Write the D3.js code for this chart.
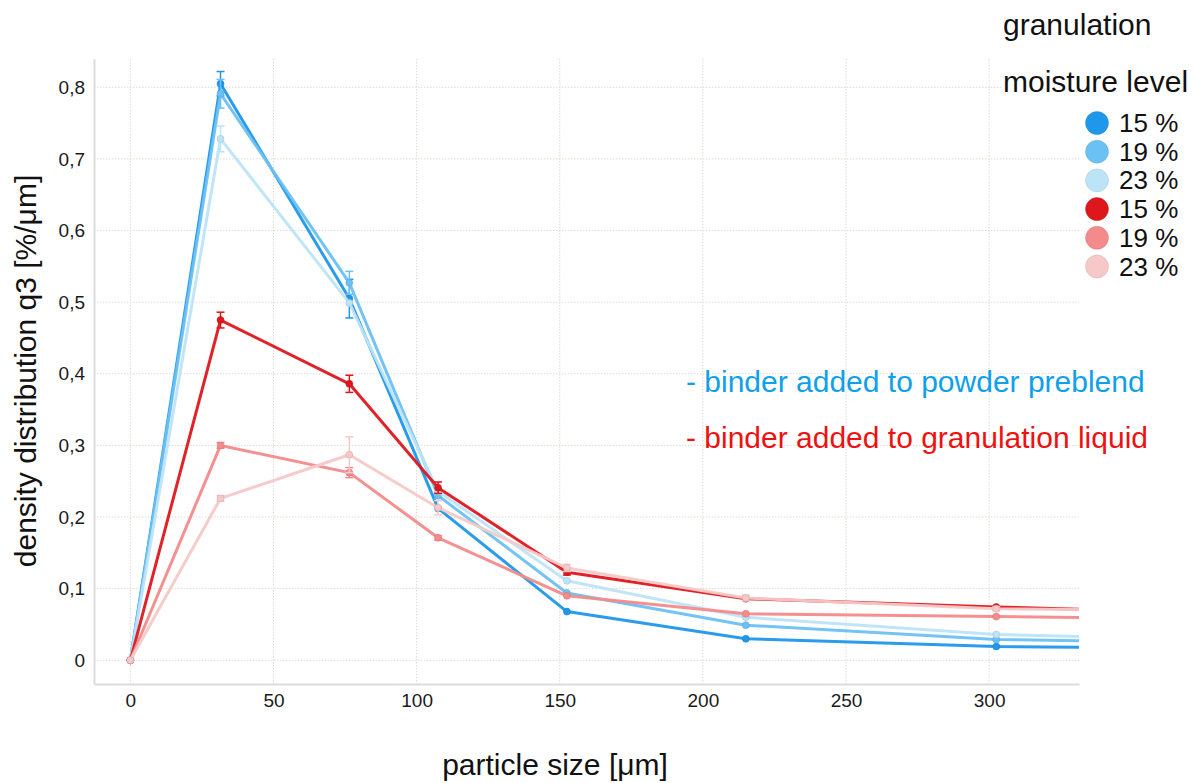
<!DOCTYPE html>
<html>
<head>
<meta charset="utf-8">
<script src="https://cdn.jsdelivr.net/npm/d3@7/dist/d3.min.js"></script>
<style>
  html, body { margin: 0; padding: 0; background: #fff; }
  svg { display: block; font-family: "Liberation Sans", Arial, sans-serif; }
</style>
</head>
<body>
<svg id="chart" width="1194" height="783"></svg>
<script>
// Particle size classes (mid-points of sieve fractions, µm)
const particleSize = [0, 31.5, 76.5, 107.5, 152.5, 215, 302.5, 427.5];

// q3 density distribution [%/µm] per formulation and moisture level
const preblend15 = [0, 0.805, 0.505, 0.212, 0.068, 0.030, 0.0193, 0.0153];
const preblend19 = [0, 0.791, 0.527, 0.230, 0.094, 0.049, 0.029, 0.021];
const preblend23 = [0, 0.728, 0.499, 0.236, 0.111, 0.060, 0.036, 0.024];
const liquid15   = [0, 0.475, 0.386, 0.241, 0.123, 0.086, 0.0745, 0.060];
const liquid19   = [0, 0.300, 0.262, 0.171, 0.090, 0.065, 0.061, 0.055];
const liquid23   = [0, 0.226, 0.287, 0.213, 0.129, 0.087, 0.072, 0.068];

// standard deviations
const preblend15Sd = [0, 0.017, 0.027, 0, 0, 0, 0, 0];
const preblend19Sd = [0, 0.020, 0.016, 0.004, 0, 0, 0, 0];
const preblend23Sd = [0, 0.018, 0, 0, 0, 0, 0, 0];
const liquid15Sd   = [0, 0.011, 0.012, 0.008, 0.004, 0, 0, 0];
const liquid19Sd   = [0, 0.004, 0.007, 0.003, 0, 0, 0, 0];
const liquid23Sd   = [0, 0.004, 0.025, 0.010, 0.005, 0.004, 0.003, 0];

const moistureLabels = ["15 %", "19 %", "23 %", "15 %", "19 %", "23 %"];
const seriesColors = ["#1f97ea", "#6cc1f4", "#bde4f6", "#de171d", "#f48a8b", "#f5c9c8"];
const xTicks = [0, 50, 100, 150, 200, 250, 300];
const yTicks = [0, 0.1, 0.2, 0.3, 0.4, 0.5, 0.6, 0.7, 0.8];

const series = [
  { values: preblend15, sd: preblend15Sd },
  { values: preblend19, sd: preblend19Sd },
  { values: preblend23, sd: preblend23Sd },
  { values: liquid15,   sd: liquid15Sd },
  { values: liquid19,   sd: liquid19Sd },
  { values: liquid23,   sd: liquid23Sd }
].map((s, i) => ({ ...s, color: seriesColors[i], label: moistureLabels[i] }));

const svg = d3.select("#chart");
const plot = { left: 94, right: 1079, top: 59, bottom: 684 };

const x = d3.scaleLinear().domain([-12.7, 331.4]).range([plot.left, plot.right]);
const y = d3.scaleLinear().domain([-0.0331, 0.8395]).range([plot.bottom, plot.top]);

const locale = d3.formatLocale({ decimal: ",", thousands: ".", grouping: [3], currency: ["", ""] });
const fmtY = v => v === 0 ? "0" : locale.format(".1f")(v);

// grid
const grid = svg.append("g").attr("class", "grid");
grid.selectAll("line.v").data(xTicks).join("line")
  .attr("x1", d => x(d)).attr("x2", d => x(d))
  .attr("y1", plot.top).attr("y2", plot.bottom)
  .attr("stroke", "#dedbd3").attr("stroke-width", 1).attr("stroke-dasharray", "1.5,1.5");
grid.selectAll("line.h").data(yTicks).join("line")
  .attr("x1", plot.left).attr("x2", plot.right)
  .attr("y1", d => y(d)).attr("y2", d => y(d))
  .attr("stroke", "#dedbd3").attr("stroke-width", 1).attr("stroke-dasharray", "1.5,1.5");

// axes
const xAxis = svg.append("g").attr("transform", `translate(0,${plot.bottom})`)
  .call(d3.axisBottom(x).tickValues(xTicks).tickSize(0).tickPadding(8).tickFormat(d3.format("d")));
const yAxis = svg.append("g").attr("transform", `translate(${plot.left},0)`)
  .call(d3.axisLeft(y).tickValues(yTicks).tickSize(0).tickPadding(9).tickFormat(fmtY));
[xAxis, yAxis].forEach(a => {
  a.select(".domain").attr("stroke", "#dcdcdc").attr("stroke-width", 2);
  a.selectAll("text").attr("font-size", 19).attr("fill", "#1a1a1a")
    .attr("font-family", "'Liberation Sans', Arial, sans-serif");
});
xAxis.selectAll("text").attr("dy", null).attr("y", 23);

// clip
svg.append("defs").append("clipPath").attr("id", "plotClip")
  .append("rect").attr("x", plot.left + 1).attr("y", plot.top - 20)
  .attr("width", plot.right - plot.left - 1).attr("height", plot.bottom - plot.top + 19);

const marks = svg.append("g").attr("clip-path", "url(#plotClip)");
const line = d3.line().x((d, i) => x(particleSize[i])).y(d => y(d));

series.forEach(s => {
  const g = marks.append("g");
  const pts = s.values.map((v, i) => ({ x: particleSize[i], v, sd: s.sd[i] }));
  g.append("path").datum(s.values).attr("d", line)
    .attr("fill", "none").attr("stroke", s.color).attr("stroke-width", 3)
    .attr("stroke-linejoin", "round").attr("stroke-opacity", 0.95);
  const eb = g.selectAll("g.err").data(pts.filter(p => p.sd > 0)).join("g")
    .attr("stroke", s.color).attr("stroke-width", 1.5);
  eb.append("line").attr("x1", p => x(p.x)).attr("x2", p => x(p.x))
    .attr("y1", p => y(p.v - p.sd)).attr("y2", p => y(p.v + p.sd));
  eb.append("line").attr("x1", p => x(p.x) - 4).attr("x2", p => x(p.x) + 4)
    .attr("y1", p => y(p.v + p.sd)).attr("y2", p => y(p.v + p.sd));
  eb.append("line").attr("x1", p => x(p.x) - 4).attr("x2", p => x(p.x) + 4)
    .attr("y1", p => y(p.v - p.sd)).attr("y2", p => y(p.v - p.sd));
  g.selectAll("circle").data(pts).join("circle")
    .attr("cx", p => x(p.x)).attr("cy", p => y(p.v)).attr("r", 3.5)
    .attr("fill", s.color)
    .attr("stroke", d3.color(s.color).darker(0.5)).attr("stroke-opacity", 0.5).attr("stroke-width", 1);
});

// axis titles
svg.append("text").attr("x", 555).attr("y", 775).attr("text-anchor", "middle")
  .attr("font-size", 30).attr("fill", "#111").text("particle size [μm]");
svg.append("text").attr("transform", "translate(36,371) rotate(-90)").attr("text-anchor", "middle")
  .attr("font-size", 30).attr("fill", "#111").text("density distribution q3 [%/μm]");

// annotations
svg.append("text").attr("x", 686).attr("y", 392).attr("font-size", 30)
  .attr("fill", "#0ea0ea").text("- binder added to powder preblend");
svg.append("text").attr("x", 686).attr("y", 448).attr("font-size", 30)
  .attr("fill", "#ee1111").text("- binder added to granulation liquid");

// legend
const legend = svg.append("g");
legend.append("rect").attr("x", 1003).attr("y", 64).attr("width", 191).attr("height", 40).attr("fill", "#fff");
legend.append("text").attr("x", 1003).attr("y", 35).attr("font-size", 30).attr("fill", "#111").text("granulation");
legend.append("text").attr("x", 1003).attr("y", 92).attr("font-size", 30).attr("fill", "#111").text("moisture level");
const item = legend.selectAll("g.item").data(series).join("g")
  .attr("transform", (d, i) => `translate(0,${123 + i * 28.7})`);
item.append("circle").attr("cx", 1097).attr("cy", 0).attr("r", 11.5)
  .attr("fill", d => d.color).attr("stroke", d => d3.color(d.color).darker(0.6)).attr("stroke-opacity", 0.35);
item.append("text").attr("x", 1119).attr("y", 9).attr("font-size", 26).attr("fill", "#111").text(d => d.label);
</script>
</body>
</html>
